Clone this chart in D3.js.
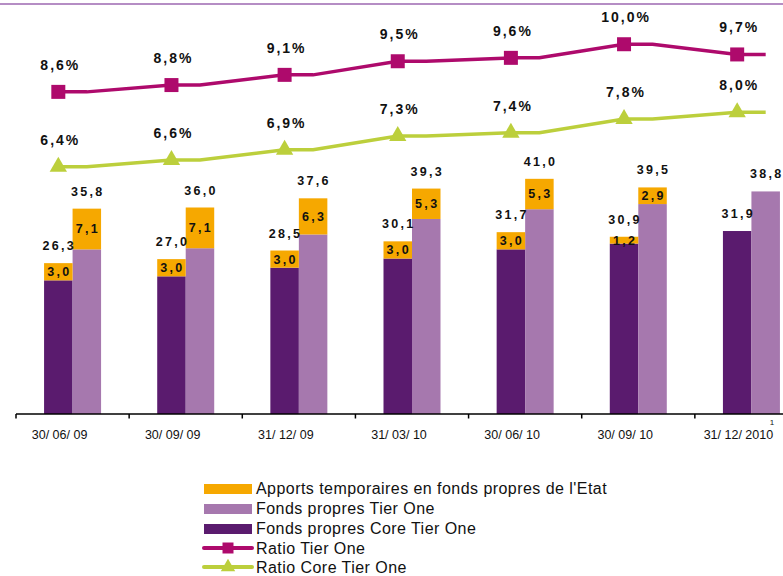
<!DOCTYPE html>
<html>
<head>
<meta charset="utf-8">
<script src="https://cdn.jsdelivr.net/npm/d3@7"></script>
<style>
  body { margin: 0; background: #ffffff; }
  svg { display: block; font-family: "Liberation Sans", Arial, sans-serif; }
</style>
</head>
<body>
<div id="chart"></div>
<script>

// categories (dates)
var categories = ["30/ 06/ 09", "30/ 09/ 09", "31/ 12/ 09", "31/ 03/ 10", "30/ 06/ 10", "30/ 09/ 10", "31/ 12/ 2010"];

// Fonds propres Core Tier One (total, including state contribution)
var coreTotal = [26.3, 27.0, 28.5, 30.1, 31.7, 30.9, 31.9];
var coreState = [3.0, 3.0, 3.0, 3.0, 3.0, 1.2, 0];

// Fonds propres Tier One (total, including state contribution)
var tierTotal = [35.8, 36.0, 37.6, 39.3, 41.0, 39.5, 38.8];
var tierState = [7.1, 7.1, 6.3, 5.3, 5.3, 2.9, 0];

// ratios, in %
var ratioTier = [8.6, 8.8, 9.1, 9.5, 9.6, 10.0, 9.7];
var ratioCore = [6.4, 6.6, 6.9, 7.3, 7.4, 7.8, 8.0];

var legendLabels = [
    "Apports temporaires en fonds propres de l'Etat",
    "Fonds propres Tier One",
    "Fonds propres Core Tier One",
    "Ratio Tier One",
    "Ratio Core Tier One"
];

// colours
var cOrange = "#f6a800";
var cDark = "#5a1b6e";
var cLight = "#a678ae";
var cMagenta = "#ae0a6c";
var cLime = "#bccf3c";

var w = 783, h = 576;
var fmt = function(v) { return d3.format(".1f")(v).replace(".", ","); };

var svg = d3.select("#chart").append("svg")
    .attr("width", w).attr("height", h);

// thin rule at top of the page
svg.append("line").attr("x1", 0).attr("x2", w).attr("y1", 4).attr("y2", 4)
    .attr("stroke", "#b58dc4").attr("stroke-width", 2);

// scales
var xscale = d3.scaleBand().domain(categories).range([16, 808]);
var bw = 28.5;
var mid = function(c) { return xscale(c) + xscale.bandwidth() / 2; };
var yscale = d3.scaleLinear().domain([0, 72]).range([414, 1]);
var rscale = d3.scaleLinear().domain([0, 11.3]).range([384.5, 0]);

// bar data
var bars = [];
categories.forEach(function(c, i) {
    bars.push({ x: mid(c) - bw, total: coreTotal[i], state: coreState[i], fill: cDark });
    bars.push({ x: mid(c), total: tierTotal[i], state: tierState[i], fill: cLight });
});

// base part of each bar
svg.selectAll(".bar").data(bars).enter().append("rect")
    .attr("class", "bar")
    .attr("x", function(d) { return d.x; })
    .attr("width", bw)
    .attr("y", function(d) { return yscale(d.total - d.state); })
    .attr("height", function(d) { return yscale(0) - yscale(d.total - d.state); })
    .attr("fill", function(d) { return d.fill; });

// state contribution on top
var st = bars.filter(function(d) { return d.state > 0; });
svg.selectAll(".state").data(st).enter().append("rect")
    .attr("class", "state")
    .attr("x", function(d) { return d.x; })
    .attr("width", bw)
    .attr("y", function(d) { return yscale(d.total); })
    .attr("height", function(d) { return yscale(d.total - d.state) - yscale(d.total); })
    .attr("fill", cOrange);

svg.selectAll(".statelab").data(st).enter().append("text")
    .attr("x", function(d) { return d.x + bw / 2 + 1; })
    .attr("y", function(d) { return yscale(d.total - d.state / 2); })
    .attr("dy", "0.35em")
    .attr("text-anchor", "middle")
    .style("font-size", "12.5px").style("font-weight", "bold").style("letter-spacing", "2.3px")
    .attr("fill", "#111")
    .text(function(d) { return fmt(d.state); });

// total labels
svg.selectAll(".totlab").data(bars).enter().append("text")
    .attr("x", function(d) { return d.x + bw / 2 + 1; })
    .attr("y", function(d) { return yscale(d.total) - 13; })
    .attr("text-anchor", "middle")
    .style("font-size", "12.5px").style("font-weight", "bold").style("letter-spacing", "2.3px")
    .attr("fill", "#111")
    .text(function(d) { return fmt(d.total); });

// x axis
svg.append("line").attr("x1", 16).attr("x2", w).attr("y1", 414).attr("y2", 414)
    .attr("stroke", "#000").attr("stroke-width", 1.5);
svg.selectAll(".tick").data(categories).enter().append("line")
    .attr("x1", function(c) { return xscale(c); }).attr("x2", function(c) { return xscale(c); })
    .attr("y1", 414).attr("y2", 418.5)
    .attr("stroke", "#000").attr("stroke-width", 1.5);
svg.selectAll(".xlab").data(categories).enter().append("text")
    .attr("x", function(c) { return mid(c) - 13; })
    .attr("y", 439)
    .attr("text-anchor", "middle")
    .style("font-size", "12.5px")
    .attr("fill", "#111")
    .text(function(c) { return c; });
svg.append("text").attr("x", 772).attr("y", 425).attr("text-anchor", "middle")
    .style("font-size", "8px").attr("fill", "#111").text("1");

// ratio lines: flat over both bars of each date
var linePts = function(vals) {
    var pts = [];
    categories.forEach(function(c, i) {
        pts.push([mid(c) - bw / 2, rscale(vals[i])]);
        pts.push([mid(c) + bw / 2, rscale(vals[i])]);
    });
    return pts;
};
var line = d3.line();

var series = [
    { vals: ratioTier, color: cMagenta, marker: d3.symbolSquare, size: 196 },
    { vals: ratioCore, color: cLime, marker: d3.symbolTriangle, size: 130 }
];

series.forEach(function(s) {
    svg.append("path").attr("d", line(linePts(s.vals)))
        .attr("fill", "none").attr("stroke", s.color).attr("stroke-width", 3.5);
    svg.selectAll(null).data(s.vals).enter().append("path")
        .attr("transform", function(v, i) {
            return "translate(" + (mid(categories[i]) - bw / 2) + "," + rscale(v) + ")";
        })
        .attr("d", d3.symbol().type(s.marker).size(s.size))
        .attr("fill", s.color);
    svg.selectAll(null).data(s.vals).enter().append("text")
        .attr("x", function(v, i) { return mid(categories[i]) - bw / 2 + 2; })
        .attr("y", function(v) { return rscale(v) - 22; })
        .attr("text-anchor", "middle")
        .style("font-size", "14px").style("font-weight", "bold").style("letter-spacing", "2px")
        .attr("fill", "#111")
        .text(function(v) { return fmt(v) + "%"; });
});

// legend
var lx = 204, lw = 48;
var rowY = [494, 514, 534, 554, 573];
var swatch = [cOrange, cLight, cDark];
var lg = svg.append("g");
swatch.forEach(function(col, i) {
    lg.append("rect").attr("x", lx).attr("y", rowY[i] - 10).attr("width", lw).attr("height", 10)
        .attr("fill", col);
});
series.forEach(function(s, k) {
    var cy = rowY[3 + k] - 6;
    lg.append("line").attr("x1", lx).attr("x2", lx + lw).attr("y1", cy).attr("y2", cy)
        .attr("stroke", s.color).attr("stroke-width", 4).attr("stroke-linecap", "round");
    lg.append("path").attr("transform", "translate(" + (lx + lw / 2) + "," + cy + ")")
        .attr("d", d3.symbol().type(s.marker).size(k == 0 ? 121 : 90))
        .attr("fill", s.color);
});
lg.selectAll("text").data(legendLabels).enter().append("text")
    .attr("x", 256)
    .attr("y", function(d, i) { return rowY[i]; })
    .style("font-size", "16px").style("letter-spacing", "0.45px")
    .attr("fill", "#111")
    .text(function(d) { return d; });

</script>
</body>
</html>
